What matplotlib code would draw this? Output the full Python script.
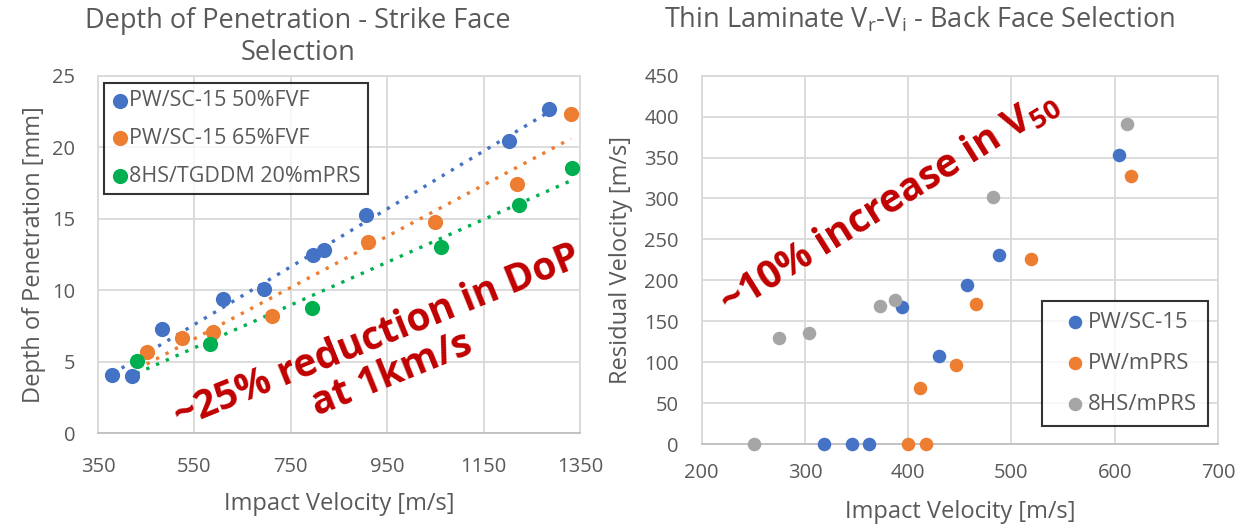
import numpy as np
import matplotlib
matplotlib.use("Agg")
import matplotlib.pyplot as plt

plt.rcParams['font.family'] = ['Open Sans', 'DejaVu Sans']
plt.rcParams['mathtext.fontset'] = 'custom'
plt.rcParams['mathtext.rm'] = 'Open Sans'
plt.rcParams['mathtext.bf'] = 'Open Sans:bold'

# ---- Left chart data: Depth of Penetration ----
dop_labels = ["PW/SC-15 50%FVF", "PW/SC-15 65%FVF", "8HS/TGDDM 20%mPRS"]
dop_v_50 = [380, 420, 483, 609, 694, 797, 818, 906, 1203, 1286]
dop_d_50 = [4.06, 4.0, 7.27, 9.39, 10.07, 12.47, 12.82, 15.27, 20.4, 22.65]
dop_v_65 = [451, 524, 589, 710, 910, 1050, 1219, 1331]
dop_d_65 = [5.69, 6.64, 7.08, 8.23, 13.4, 14.8, 17.41, 22.33]
dop_v_8hs = [430, 583, 793, 1062, 1223, 1333]
dop_d_8hs = [5.06, 6.27, 8.74, 13.05, 15.94, 18.57]
left_xticks = [350, 550, 750, 950, 1150, 1350]
left_yticks = [0, 5, 10, 15, 20, 25]

# ---- Right chart data: Residual velocity ----
vr_labels = ["PW/SC-15", "PW/mPRS", "8HS/mPRS"]
vi_sc15 = [318, 346, 362, 394, 430, 457, 488, 604]
vr_sc15 = [0, 0, 0, 168, 107, 194, 231, 353]
vi_pwm = [400, 417, 411, 446, 466, 519, 616]
vr_pwm = [0, 0, 69, 97, 171, 226, 328]
vi_8hs = [251, 275, 304, 373, 387, 482, 612]
vr_8hs = [0, 129, 136, 169, 176, 302, 391]
right_xticks = [200, 300, 400, 500, 600, 700]
right_yticks = [0, 50, 100, 150, 200, 250, 300, 350, 400, 450]

BLUE = "#4472C4"
ORANGE = "#ED7D31"
GREEN = "#00B050"
GRAY = "#A5A5A5"
TXT = "#595959"
GRID = "#D9D9D9"
RED = "#C00000"

W, H = 1247, 528
fig = plt.figure(figsize=(W / 100, H / 100), dpi=100)

def px_axes(l, r, t, b):
    return fig.add_axes([l / W, 1 - b / H, (r - l) / W, (b - t) / H])

def style(ax):
    ax.grid(True, color=GRID, linewidth=1.3)
    ax.set_axisbelow(True)
    for s in ax.spines.values():
        s.set_color(GRID)
        s.set_linewidth(1.3)
    ax.spines['bottom'].set_color("#BFBFBF")
    ax.tick_params(length=0, colors=TXT, labelsize=14.5)
    ax.tick_params(axis='y', pad=16.5)

def style_legend(leg):
    leg.get_frame().set_edgecolor("black")
    leg.get_frame().set_linewidth(1.5)
    for t in leg.get_texts():
        t.set_color(TXT)

# Left
ax1 = px_axes(98, 580, 75.7, 433.3)
style(ax1)
ax1.tick_params(axis='x', pad=17)
ax1.set_xlim(350, 1350)
ax1.set_ylim(0, 25)
ax1.set_xticks(left_xticks)
ax1.set_yticks(left_yticks)
for xs, ys, c, lab in [(dop_v_50, dop_d_50, BLUE, dop_labels[0]),
                       (dop_v_65, dop_d_65, ORANGE, dop_labels[1]),
                       (dop_v_8hs, dop_d_8hs, GREEN, dop_labels[2])]:
    ax1.scatter(xs, ys, s=120, color=c, label=lab, zorder=3, linewidths=0)
    p = np.polyfit(xs, ys, 1)
    xx = np.array([min(xs), max(xs)])
    ax1.plot(xx, np.polyval(p, xx), color=c, linestyle=(0, (1, 2.2)), linewidth=2.4, zorder=2)
fig.text(298 / W, 1 - 28 / H, "Depth of Penetration - Strike Face", color=TXT,
         fontsize=19.5, ha='center', va='baseline')
fig.text(298 / W, 1 - 60 / H, "Selection", color=TXT, fontsize=19.5, ha='center', va='baseline')
ax1.set_xlabel("Impact Velocity [m/s]", color=TXT, fontsize=17, labelpad=11)
ax1.set_ylabel("Depth of Penetration [mm]", color=TXT, fontsize=17, labelpad=4)
leg1 = ax1.legend(loc='upper left', bbox_to_anchor=(0.0124, 0.98), borderaxespad=0,
                  fontsize=15.5, frameon=True, fancybox=False, handletextpad=0.05,
                  handlelength=0.75, borderpad=0.35, labelspacing=0.77)
style_legend(leg1)
ax1.text(945, 5.4, "~25% reduction in DoP\nat 1km/s",
         color=RED, fontsize=28, fontweight='bold', rotation=22, ha='center', va='center',
         multialignment='center', linespacing=1.05, rotation_mode='anchor')

# Right
ax2 = px_axes(701.7, 1218, 75.7, 444)
style(ax2)
ax2.tick_params(axis='x', pad=14)
ax2.set_xlim(200, 700)
ax2.set_ylim(0, 450)
ax2.set_xticks(right_xticks)
ax2.set_yticks(right_yticks)
for xs, ys, c, lab in [(vi_sc15, vr_sc15, BLUE, vr_labels[0]),
                       (vi_pwm, vr_pwm, ORANGE, vr_labels[1]),
                       (vi_8hs, vr_8hs, GRAY, vr_labels[2])]:
    ax2.scatter(xs, ys, s=95, color=c, label=lab, zorder=3, linewidths=0, clip_on=False)
fig.text(920 / W, 1 - 28 / H, r"Thin Laminate V$_\mathregular{r}$-V$_\mathregular{i}$ - Back Face Selection",
         color=TXT, fontsize=19.5, ha='center', va='baseline')
ax2.set_xlabel("Impact Velocity [m/s]", color=TXT, fontsize=17, labelpad=12)
ax2.set_ylabel("Residual Velocity [m/s]", color=TXT, fontsize=17, labelpad=8)
leg2 = ax2.legend(loc='lower right', bbox_to_anchor=(0.98, 0.049), borderaxespad=0,
                  fontsize=16, frameon=True, fancybox=False, handletextpad=-0.45,
                  handlelength=2.0, borderpad=0.5, labelspacing=0.9)
style_legend(leg2)
ax2.text(382, 294, r"~10% increase in V$_{\mathbf{50}}$", color=RED, fontsize=28,
         fontweight='bold', rotation=32, ha='center', va='center', rotation_mode='anchor')

fig.savefig("out.png", dpi=100, facecolor="white")
